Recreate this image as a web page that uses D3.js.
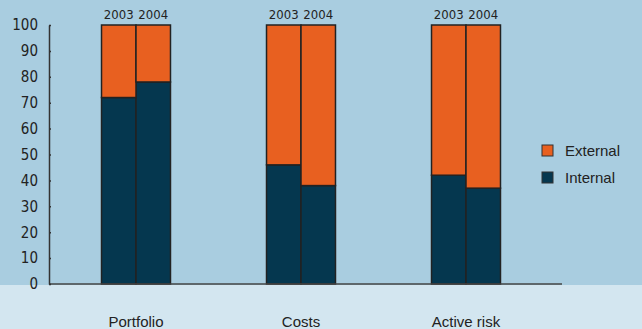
<!DOCTYPE html>
<meta charset="utf-8">
<script src="https://d3js.org/d3.v7.min.js"></script>
<style>
  body { margin: 0; }
  text { font-family: "Liberation Sans", Arial, sans-serif; fill: #222; }
  .narrow { font-family: "DejaVu Sans Condensed", "DejaVu Sans", sans-serif; font-stretch: condensed; }
</style>
<body>
<div id="chart"></div>
<script>

// data
var categories = ["Portfolio", "Costs", "Active risk"]
var years = ["2003", "2004"]
var internal = [72, 78, 46, 38, 42, 37]   // per category, 2003 then 2004
var external = internal.map(function(v) { return 100 - v })
var yTicks = [0, 10, 20, 30, 40, 50, 60, 70, 80, 90, 100]
var legendLabels = ["External", "Internal"]

var width = 642, height = 329
var colInternal = "#05374f", colExternal = "#e86020"

var svg = d3.select("#chart").append("svg")
  .attr("width", width)
  .attr("height", height)

// backgrounds
svg.append("rect").attr("width", width).attr("height", 285).attr("fill", "#a9cde0")
svg.append("rect").attr("y", 285).attr("width", width).attr("height", height - 285).attr("fill", "#d3e6f0")

var y = d3.scaleLinear().domain([0, 100]).range([284, 25])

// one band per category, then a sub band per year
var x = d3.scaleBand().domain(categories).range([53.5, 548.5])
  .paddingInner(0.582).paddingOuter(0.291)
var xs = d3.scaleBand().domain(years).range([0, x.bandwidth()])

var rows = []
categories.forEach(function(c, i) {
  years.forEach(function(yr, j) {
    var k = i * 2 + j
    rows.push({cat: c, year: yr, internal: internal[k], external: external[k]})
  })
})

var g = svg.append("g")

g.selectAll(".int").data(rows).enter().append("rect")
  .attr("x", function(d) { return x(d.cat) + xs(d.year) })
  .attr("width", xs.bandwidth())
  .attr("y", function(d) { return y(d.internal) })
  .attr("height", function(d) { return y(0) - y(d.internal) })
  .attr("fill", colInternal)
  .attr("stroke", "#222").attr("stroke-width", 1.5)

g.selectAll(".ext").data(rows).enter().append("rect")
  .attr("x", function(d) { return x(d.cat) + xs(d.year) })
  .attr("width", xs.bandwidth())
  .attr("y", function(d) { return y(100) })
  .attr("height", function(d) { return y(d.internal) - y(100) })
  .attr("fill", colExternal)
  .attr("stroke", "#222").attr("stroke-width", 1.5)

// year labels above bars
g.selectAll(".yr").data(rows).enter().append("text")
  .attr("class", "narrow")
  .attr("x", function(d) { return x(d.cat) + xs(d.year) + xs.bandwidth() / 2 })
  .attr("y", 19)
  .attr("text-anchor", "middle")
  .style("font-size", "13px")
  .text(function(d) { return d.year })

// category labels
g.selectAll(".cat").data(categories).enter().append("text")
  .attr("x", function(d) { return x(d) + x.bandwidth() / 2 })
  .attr("y", 327)
  .attr("text-anchor", "middle")
  .style("font-size", "15px")
  .text(function(d) { return d })

// baseline
svg.append("line")
  .attr("x1", 49).attr("x2", 562)
  .attr("y1", y(0)).attr("y2", y(0))
  .attr("stroke", "#444").attr("stroke-width", 1.5)

// y axis
var yAxis = svg.append("g")
  .attr("transform", "translate(49,0)")
  .call(d3.axisLeft(y).tickValues(yTicks).tickSize(4).tickSizeOuter(0))
yAxis.select(".domain").attr("stroke", "#333").attr("stroke-width", 1.5)
yAxis.selectAll(".tick line").attr("stroke", "#333").attr("stroke-width", 1.5).attr("x2", 2)
yAxis.selectAll(".tick text")
  .attr("class", "narrow")
  .attr("x", -11)
  .style("font-size", "15px")
  .attr("fill", "#222")

// legend
var legend = svg.append("g").attr("transform", "translate(542,145)")
legend.selectAll("rect").data(legendLabels).enter().append("rect")
  .attr("x", 0)
  .attr("y", function(d, i) { return i * 27 })
  .attr("width", 11).attr("height", 11)
  .attr("fill", function(d) { return d == "External" ? colExternal : colInternal })
  .attr("stroke", "#333").attr("stroke-width", 1)
legend.selectAll("text").data(legendLabels).enter().append("text")
  .attr("x", 23)
  .attr("y", function(d, i) { return i * 27 + 11 })
  .style("font-size", "15px")
  .text(function(d) { return d })

</script>
</body>
